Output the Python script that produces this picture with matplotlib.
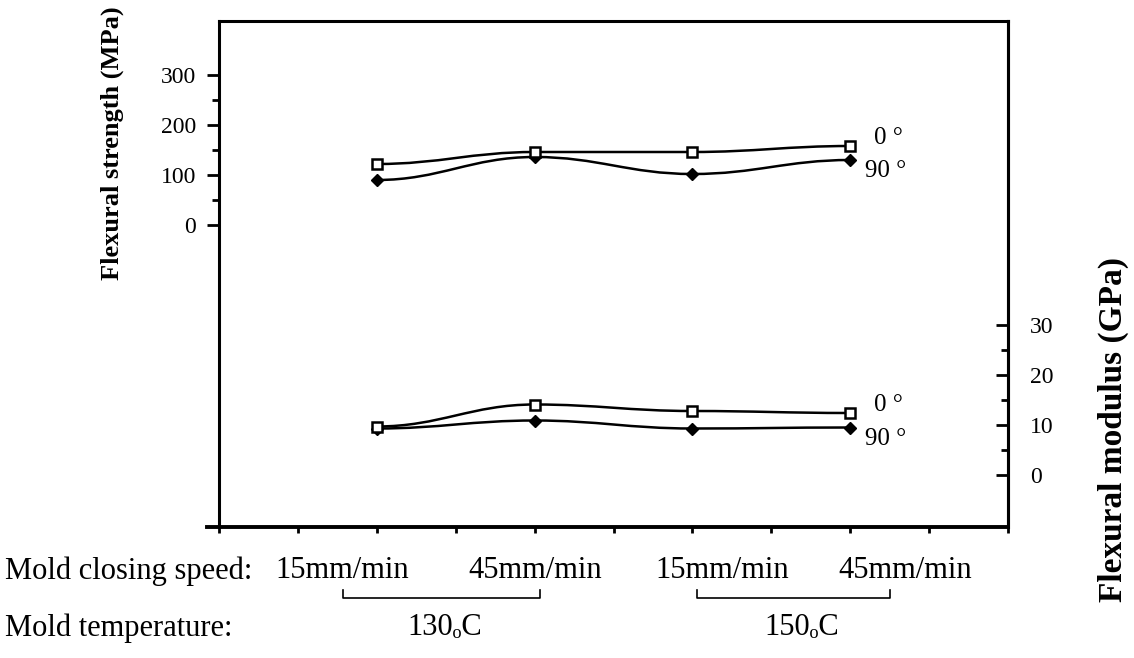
import matplotlib.pyplot as plt
from matplotlib.path import Path
from matplotlib.patches import PathPatch
from matplotlib.lines import Line2D

# data
positions = [2, 4, 6, 8]
speeds = ['15mm/min', '45mm/min', '15mm/min', '45mm/min']
temps = ['130\u2092C', '150\u2092C']
strength_0 = [122, 146, 146, 158]
strength_90 = [90, 136, 102, 130]
modulus_0 = [9.7, 14.1, 12.8, 12.4]
modulus_90 = [9.3, 10.9, 9.3, 9.5]

W, H = 1134, 658
plt.rcParams['font.family'] = ['Liberation Serif', 'DejaVu Serif']


def fx(px):
    return px / W


def fy(py):
    return 1 - py / H


def smooth_line(ax, xs, ys):
    # hand-drawn looking S-curves between the measured points
    verts = [(xs[0], ys[0])]
    codes = [Path.MOVETO]
    for i in range(1, len(xs)):
        d = (xs[i] - xs[i - 1]) * 0.4
        verts += [(xs[i - 1] + d, ys[i - 1]), (xs[i] - d, ys[i]), (xs[i], ys[i])]
        codes += [Path.CURVE4] * 3
    ax.add_patch(PathPatch(Path(verts, codes), fill=False, lw=1.8, ec='black', zorder=2))


def draw_pair(ax, ys0, ys90):
    smooth_line(ax, positions, ys0)
    smooth_line(ax, positions, ys90)
    ax.plot(positions, ys90, ls='none', marker='D', ms=6.5, mfc='black', mec='black', zorder=3)
    ax.plot(positions, ys0, ls='none', marker='s', ms=7.5, mfc='white', mec='black', mew=1.8, zorder=4)
    ax.annotate('0 \u00b0', (positions[-1], ys0[-1]), xytext=(17, 6), textcoords='offset points',
                ha='left', va='center', fontsize=18)
    ax.annotate('90 \u00b0', (positions[-1], ys90[-1]), xytext=(11, -8), textcoords='offset points',
                ha='left', va='center', fontsize=18)


fig = plt.figure(figsize=(W / 100, H / 100), dpi=100)
ax = fig.add_axes([fx(219), fy(527), fx(1008) - fx(219), fy(21) - fy(527)])
ax2 = ax.twinx()

ax.set_xlim(0, 10)
ax.set_ylim(-604, 408)
ax2.set_ylim(-10.4, 90.8)

draw_pair(ax, strength_0, strength_90)
draw_pair(ax2, modulus_0, modulus_90)

# left axis
ax.set_yticks([0, 100, 200, 300])
ax.set_yticks([50, 150, 250], minor=True)
ax.tick_params(axis='y', which='major', direction='out', length=8.5, width=2, labelsize=17, pad=8)
ax.tick_params(axis='y', which='minor', direction='out', length=5, width=2)
ax.set_xticks(range(11))
ax.set_xticklabels([])
ax.tick_params(axis='x', direction='out', length=4, width=2)

# right axis
ax2.set_yticks([0, 10, 20, 30])
ax2.set_yticks([5, 15, 25], minor=True)
ax2.tick_params(axis='y', which='major', direction='in', length=8.5, width=2, labelsize=17, pad=16)
ax2.tick_params(axis='y', which='minor', direction='in', length=5, width=2)

for s in ['left', 'top', 'right']:
    ax.spines[s].set_linewidth(2.2)
ax.spines['bottom'].set_linewidth(2.8)
ax.spines['bottom'].set_bounds(-0.15, 10)
for s in ['left', 'top', 'bottom']:
    ax2.spines[s].set_visible(False)
ax2.spines['right'].set_linewidth(2.2)

fig.text(fx(112), fy(143), 'Flexural strength (MPa)', rotation=90, ha='center', va='center',
         fontsize=19, fontweight='bold')
fig.text(fx(1113), fy(430), 'Flexural modulus (GPa)', rotation=90, ha='center', va='center',
         fontsize=24, fontweight='bold')

# category rows under the axis
fig.text(fx(5), fy(571), 'Mold closing speed:', ha='left', va='center', fontsize=22)
for cx, lab in zip([342, 535, 722, 905], speeds):
    fig.text(fx(cx), fy(571), lab, ha='center', va='center', fontsize=22)

fig.text(fx(5), fy(628), 'Mold temperature:', ha='left', va='center', fontsize=22)
for cx, lab in zip([445, 802], temps):
    fig.text(fx(cx), fy(628), lab, ha='center', va='center', fontsize=22)

for x0, x1 in [(343, 540), (697, 890)]:
    fig.add_artist(Line2D([fx(x0), fx(x0), fx(x1), fx(x1)], [fy(590), fy(598), fy(598), fy(590)],
                          color='black', lw=1.2))

fig.savefig('out.png', dpi=100)
